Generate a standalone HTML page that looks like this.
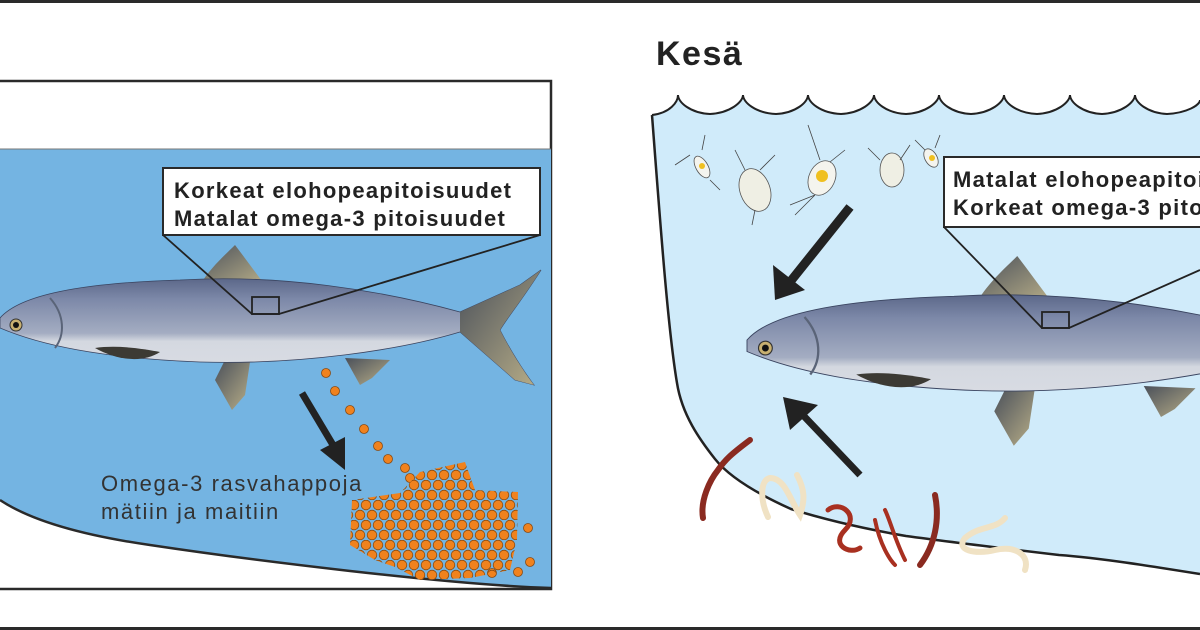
<!DOCTYPE html>
<html><head><meta charset="utf-8"><style>
html,body{margin:0;padding:0;background:#fff;}
svg{display:block;}
text{font-family:"Liberation Sans",sans-serif;}
</style></head><body>
<svg width="1200" height="630" viewBox="0 0 1200 630" xmlns="http://www.w3.org/2000/svg">
<defs>
<linearGradient id="fb" x1="0" y1="0" x2="0" y2="1">
<stop offset="0" stop-color="#4e5a7c"/><stop offset="0.25" stop-color="#7c88a8"/><stop offset="0.55" stop-color="#a4adc2"/><stop offset="0.62" stop-color="#d4d8e0"/><stop offset="1" stop-color="#dcdfe6"/>
</linearGradient>
<linearGradient id="fin" x1="0" y1="0" x2="1" y2="1">
<stop offset="0" stop-color="#4a505a"/><stop offset="1" stop-color="#b8ae88"/>
</linearGradient>
<pattern id="eggs" x="0" y="0" width="12" height="20" patternUnits="userSpaceOnUse">
<circle cx="6" cy="5" r="4.8" fill="#f0821e" stroke="#8a4a10" stroke-width="0.8"/>
<circle cx="0" cy="15" r="4.8" fill="#f0821e" stroke="#8a4a10" stroke-width="0.8"/>
<circle cx="12" cy="15" r="4.8" fill="#f0821e" stroke="#8a4a10" stroke-width="0.8"/>
</pattern>
<g id="fish">
<path d="M200,285 C210,268 225,255 235,245 C245,258 255,272 265,285 Z" fill="url(#fin)"/>
<path d="M225,360 L215,380 L232,410 L245,395 L250,362 Z" fill="url(#fin)"/>
<path d="M345,358 L360,385 L372,378 L390,360 Z" fill="url(#fin)"/>
<path d="M0,318 C20,295 80,283 180,280 C280,274 380,290 460,312 L520,285 L541,270 C522,300 507,318 500,330 C510,350 524,372 534,385 L515,380 L460,332 C400,350 300,365 200,362 C100,358 40,345 0,328 Z" fill="url(#fb)" stroke="#3a4460" stroke-width="0.8"/>
<path d="M460,312 L520,285 L541,270 C522,300 507,318 500,330 C510,350 524,372 534,385 L515,380 L460,332 Z" fill="url(#fin)"/>
<path d="M50,298 C65,315 65,335 55,348" fill="none" stroke="#5a6478" stroke-width="2"/>
<path d="M95,348 C115,345 140,348 160,352 C145,362 120,362 95,348 Z" fill="#3c3a34"/>
<circle cx="16" cy="325" r="6" fill="#c8b070" stroke="#333" stroke-width="1"/>
<circle cx="16" cy="325" r="3" fill="#111"/>
</g>
</defs>
<rect x="0" y="0" width="1200" height="3" fill="#2a2a2a"/>
<rect x="0" y="627" width="1200" height="3" fill="#2a2a2a"/>

<!-- Left panel -->
<rect x="-2" y="81" width="553" height="508" fill="#fff" stroke="#2a2a2a" stroke-width="2.5"/>
<path d="M0,149 L551,149 L551,588 C450,585 250,560 150,545 C80,535 30,520 0,500 Z" fill="#74b4e2"/>
<path d="M0,500 C30,520 80,535 150,545 C250,560 450,585 551,588" fill="none" stroke="#2a2a2a" stroke-width="2.5"/>
<line x1="0" y1="149" x2="551" y2="149" stroke="#777" stroke-width="1"/>
<use href="#fish"/>
<rect x="163" y="168" width="377" height="67" fill="#fff" stroke="#2a2a2a" stroke-width="2"/>
<text x="174" y="198" font-size="22" font-weight="bold" fill="#222" letter-spacing="1.3">Korkeat elohopeapitoisuudet</text>
<text x="174" y="226" font-size="22" font-weight="bold" fill="#222" letter-spacing="1.3">Matalat omega-3 pitoisuudet</text>
<polyline points="163,235 252,314 279,314 540,235" fill="none" stroke="#222" stroke-width="1.8"/>
<rect x="252" y="297" width="27" height="17" fill="none" stroke="#222" stroke-width="1.8"/>
<line x1="302" y1="393" x2="333" y2="445" stroke="#222" stroke-width="7"/>
<polygon points="320,450 345,470 345,437" fill="#222"/>
<text x="101" y="491" font-size="22" fill="#333" letter-spacing="1.6">Omega-3 rasvahappoja</text>
<text x="101" y="519" font-size="22" fill="#333" letter-spacing="1.6">mätiin ja maitiin</text>
<g fill="#f0821e" stroke="#8a4a10" stroke-width="0.8">
<circle cx="326" cy="373" r="4.5"/><circle cx="335" cy="391" r="4.5"/><circle cx="350" cy="410" r="4.5"/><circle cx="364" cy="429" r="4.5"/><circle cx="378" cy="446" r="4.5"/><circle cx="388" cy="459" r="4.5"/><circle cx="405" cy="468" r="4.5"/><circle cx="410" cy="478" r="4.5"/>
<circle cx="528" cy="528" r="4.5"/><circle cx="530" cy="562" r="4.5"/><circle cx="492" cy="573" r="4.5"/><circle cx="518" cy="572" r="4.5"/>
</g>
<path d="M420,472 L465,462 L475,490 L518,492 L517,540 L510,570 L470,578 L420,580 L395,567 L375,560 L350,545 L352,500 L400,493 Z" fill="url(#eggs)"/>

<!-- Right panel -->
<text x="656" y="65" font-size="34" font-weight="bold" fill="#222" letter-spacing="1.5">Kesä</text>
<path d="M652,115 C670,113 678,102 678,95 C678,102 690,113 710,114 C730,113 743,102 743,95 C743,102 755,113 776,114 C796,113 808,102 808,95 C808,102 820,113 841,114 C861,113 874,102 874,95 C874,102 886,113 906,114 C926,113 939,102 939,95 C939,102 951,113 971,114 C991,113 1004,102 1004,95 C1004,102 1016,113 1037,114 C1057,113 1070,102 1070,95 C1070,102 1082,113 1102,114 C1122,113 1135,102 1135,95 C1135,102 1147,113 1167,114 C1187,113 1200,105 1200,100 L1200,574 C1150,566 1100,558 1059,555 C1000,548 950,542 906,536 C860,528 820,518 791,509 C760,495 730,478 715,459 C700,440 682,415 677,383 C668,330 660,220 652,115 Z" fill="#d0ebfa"/>
<path d="M652,115 C670,113 678,102 678,95 C678,102 690,113 710,114 C730,113 743,102 743,95 C743,102 755,113 776,114 C796,113 808,102 808,95 C808,102 820,113 841,114 C861,113 874,102 874,95 C874,102 886,113 906,114 C926,113 939,102 939,95 C939,102 951,113 971,114 C991,113 1004,102 1004,95 C1004,102 1016,113 1037,114 C1057,113 1070,102 1070,95 C1070,102 1082,113 1102,114 C1122,113 1135,102 1135,95 C1135,102 1147,113 1167,114 C1187,113 1200,105 1200,100" fill="none" stroke="#222" stroke-width="2"/>
<path d="M652,115 C660,220 668,330 677,383 C682,415 700,440 715,459 C730,478 760,495 791,509 C820,518 860,528 906,536 C950,542 1000,548 1059,555 C1100,558 1150,566 1200,574" fill="none" stroke="#222" stroke-width="2.5"/>
<g transform="translate(747,340) scale(1.15) translate(0,-318)"><use href="#fish"/></g>
<rect x="944" y="157" width="270" height="70" fill="#fff" stroke="#2a2a2a" stroke-width="2"/>
<text x="953" y="187" font-size="22" font-weight="bold" fill="#222" letter-spacing="1.3">Matalat elohopeapitoisuudet</text>
<text x="953" y="215" font-size="22" font-weight="bold" fill="#222" letter-spacing="1.3">Korkeat omega-3 pitoisuudet</text>
<polyline points="944,227 1042,328 1069,328 1200,270" fill="none" stroke="#222" stroke-width="1.8"/>
<rect x="1042" y="312" width="27" height="16" fill="none" stroke="#222" stroke-width="1.8"/>
<line x1="850" y1="207" x2="790" y2="282" stroke="#222" stroke-width="9"/>
<polygon points="775,300 773,265 805,290" fill="#222"/>
<line x1="860" y1="475" x2="800" y2="412" stroke="#222" stroke-width="7"/>
<polygon points="783,397 790,430 818,405" fill="#222"/>
<!-- zooplankton -->
<g stroke="#555" stroke-width="0.8">
<ellipse cx="702" cy="167" rx="6" ry="12" fill="#f4f4ee" transform="rotate(-30 702 167)"/>
<ellipse cx="755" cy="190" rx="15" ry="22" fill="#efefe4" transform="rotate(-20 755 190)"/>
<ellipse cx="822" cy="178" rx="13" ry="18" fill="#f4f4ee" transform="rotate(25 822 178)"/>
<ellipse cx="892" cy="170" rx="12" ry="17" fill="#efefe4"/>
<ellipse cx="931" cy="158" rx="6" ry="10" fill="#f4f4ee" transform="rotate(-30 931 158)"/>
</g>
<g fill="#f0c020"><circle cx="702" cy="166" r="3"/><circle cx="822" cy="176" r="6"/><circle cx="932" cy="158" r="3"/></g>
<g stroke="#444" stroke-width="0.8" fill="none">
<path d="M690,155 L675,165 M702,150 L705,135 M710,180 L720,190"/>
<path d="M745,170 L735,150 M760,170 L775,155 M755,210 L752,225"/>
<path d="M820,160 L808,125 M830,162 L845,150 M815,195 L795,215 M815,195 L790,205"/>
<path d="M880,160 L868,148 M900,160 L910,145"/>
<path d="M925,150 L915,140 M935,148 L940,135"/>
</g>
<!-- worms -->
<g fill="none" stroke-linecap="round">
<path d="M703,518 C700,500 710,480 718,470 C725,460 730,455 750,440" stroke="#8a2a20" stroke-width="6"/>
<path d="M768,517 C760,500 760,480 770,478 C785,478 790,500 800,515 C805,500 805,490 797,475" stroke="#f0e2c4" stroke-width="6"/>
<path d="M828,510 C840,500 860,515 845,530 C830,545 850,555 860,548" stroke="#a83020" stroke-width="5"/>
<path d="M875,520 C880,545 890,560 895,565 M885,510 C890,520 895,540 905,560" stroke="#a83020" stroke-width="4"/>
<path d="M935,495 C940,520 935,545 920,565" stroke="#8a2a20" stroke-width="6"/>
<path d="M1005,518 C995,530 980,525 965,538 C955,550 975,555 995,550 C1015,545 1030,555 1025,570" stroke="#f0e2c4" stroke-width="6"/>
</g>
</svg>
</body></html>
